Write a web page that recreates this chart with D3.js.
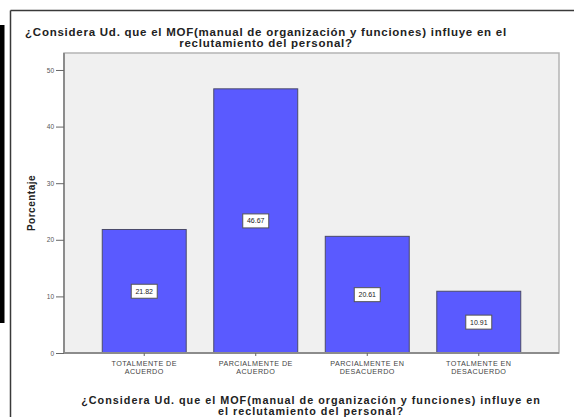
<!DOCTYPE html>
<html>
<head>
<meta charset="utf-8">
<script src="https://cdn.jsdelivr.net/npm/d3@7/dist/d3.min.js"></script>
<style>
  html, body { margin: 0; padding: 0; background: #ffffff; }
  svg { display: block; }
</style>
</head>
<body>
<svg id="chart" width="574" height="417"></svg>
<script>
// Response categories (two-line tick labels) and percentages
const categories = ["TOTALMENTE DE ACUERDO", "PARCIALMENTE DE ACUERDO", "PARCIALMENTE EN DESACUERDO", "TOTALMENTE EN DESACUERDO"];
const tickLines = [["TOTALMENTE DE", "ACUERDO"], ["PARCIALMENTE DE", "ACUERDO"], ["PARCIALMENTE EN", "DESACUERDO"], ["TOTALMENTE EN", "DESACUERDO"]];
const percentages = [21.82, 46.67, 20.61, 10.91];
const yTicks = [0, 10, 20, 30, 40, 50];
const titleLines = ["¿Considera Ud. que el MOF(manual de organización y funciones) influye en el", "reclutamiento del personal?"];
const xTitleLines = ["¿Considera Ud. que el MOF(manual de organización y funciones) influye en", "el reclutamiento del personal?"];
const yTitle = "Porcentaje";

const svg = d3.select("#chart");
const font = "'Liberation Sans', Arial, sans-serif";

// Outer frame and the dark strip on the left edge
svg.append("rect").attr("x", 0).attr("y", 25).attr("width", 4.5).attr("height", 298).attr("fill", "#000");
svg.append("line").attr("x1", 10.5).attr("y1", 10.5).attr("x2", 574).attr("y2", 10.5)
  .attr("stroke", "#3a3a3a").attr("stroke-width", 1.5);
svg.append("line").attr("x1", 10.5).attr("y1", 10.5).attr("x2", 10.5).attr("y2", 417)
  .attr("stroke", "#3a3a3a").attr("stroke-width", 1.5);

// Plot area
const plot = { left: 64, right: 559, top: 53, bottom: 353 };

const y = d3.scaleLinear().domain([0, 53]).range([plot.bottom, plot.top]);
const x = d3.scaleBand().domain(categories).range([plot.left, plot.right])
  .paddingInner(0.247).paddingOuter(0.343);

svg.append("rect")
  .attr("x", plot.left).attr("y", plot.top)
  .attr("width", plot.right - plot.left).attr("height", plot.bottom - plot.top)
  .attr("fill", "#f0f0f0").attr("stroke", "#b4b4b4").attr("stroke-width", 1.5);

// Bars
svg.append("g").selectAll("rect").data(percentages).join("rect")
  .attr("x", (d, i) => x(categories[i]))
  .attr("y", d => y(d))
  .attr("width", x.bandwidth())
  .attr("height", d => y(0) - y(d))
  .attr("fill", "#5a5aff")
  .attr("stroke", "#4a4a6a").attr("stroke-width", 1);

// Value labels in boxes at bar mid-height
const lbl = svg.append("g").selectAll("g").data(percentages).join("g")
  .attr("transform", (d, i) => `translate(${x(categories[i]) + x.bandwidth() / 2},${y(d / 2)})`);
lbl.append("rect").attr("x", -13).attr("y", -7).attr("width", 26).attr("height", 14)
  .attr("fill", "#ffffff").attr("stroke", "#555").attr("stroke-width", 1);
lbl.append("text").attr("text-anchor", "middle").attr("dy", "0.35em")
  .attr("font-family", font).attr("font-size", 7).attr("fill", "#222")
  .text(d => d.toFixed(2));

// Y axis
const yAxis = svg.append("g").attr("transform", `translate(${plot.left},0)`)
  .call(d3.axisLeft(y).tickValues(yTicks).tickSize(8).tickPadding(2));
yAxis.select(".domain").attr("stroke", "#8c8c8c").attr("stroke-width", 2)
  .attr("d", `M0,${plot.top}V${plot.bottom}`);
yAxis.selectAll(".tick line").attr("stroke", "#666");
yAxis.selectAll(".tick text").attr("font-family", font).attr("font-size", 6.5).attr("fill", "#555");

// X axis
const xAxis = svg.append("g").attr("transform", `translate(0,${plot.bottom})`)
  .call(d3.axisBottom(x).tickSize(3).tickFormat(""));
xAxis.select(".domain").attr("stroke", "#8c8c8c").attr("stroke-width", 2)
  .attr("d", `M${plot.left},0H${plot.right}`);
xAxis.selectAll(".tick line").attr("stroke", "#666");
xAxis.selectAll(".tick").each(function (d, i) {
  const t = d3.select(this).append("text").attr("text-anchor", "middle")
    .attr("font-family", font).attr("font-size", 7.2).attr("letter-spacing", 0.45).attr("fill", "#444");
  tickLines[i].forEach((s, k) => t.append("tspan").attr("x", 0).attr("y", 12.5 + k * 8.5).text(s));
});

// Titles
const title = svg.append("text").attr("text-anchor", "middle")
  .attr("font-family", font).attr("font-weight", "bold").attr("font-size", 11.5)
  .attr("letter-spacing", 0.75).attr("fill", "#222");
titleLines.forEach((s, k) => title.append("tspan").attr("x", 266).attr("y", 35.5 + k * 11).text(s));

const xTitle = svg.append("text").attr("text-anchor", "middle")
  .attr("font-family", font).attr("font-weight", "bold").attr("font-size", 10.8)
  .attr("letter-spacing", 1.0).attr("fill", "#222");
xTitleLines.forEach((s, k) => xTitle.append("tspan").attr("x", 311).attr("y", 404 + k * 10.8).text(s));

svg.append("text").attr("transform", "translate(35,203) rotate(-90)")
  .attr("text-anchor", "middle").attr("font-family", font).attr("font-weight", "bold")
  .attr("font-size", 10).attr("letter-spacing", 0.5).attr("fill", "#222").text(yTitle);
</script>
</body>
</html>
